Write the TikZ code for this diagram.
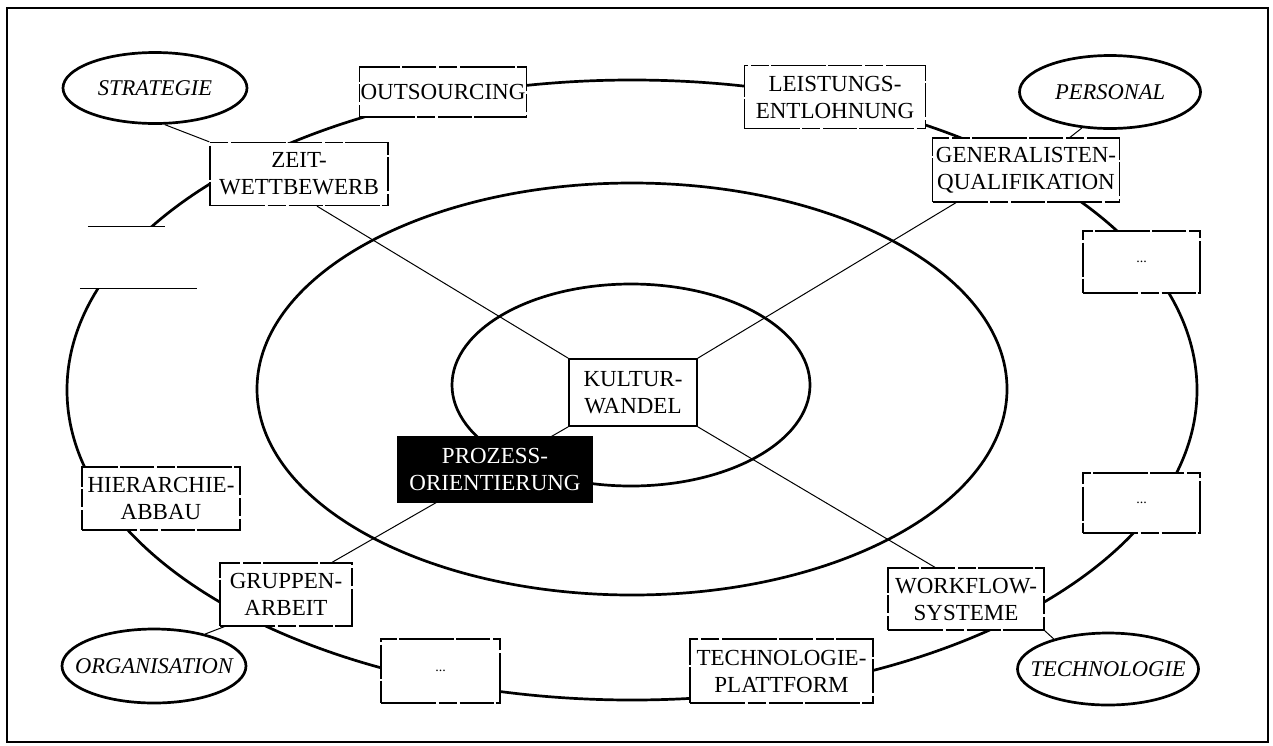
\documentclass[tikz,border=0pt]{standalone}
\usepackage{fontspec}
\setmainfont{Liberation Serif}
\usetikzlibrary{shapes.geometric,calc}
\pgfdeclarelayer{bg}
\pgfsetlayers{bg,main}
% keeps a label from widening the ellipse around it
\newcommand{\narrowtext}[1]{\makebox[0pt]{#1}}
\tikzset{
  ring/.style={line width=2.7pt},
  link/.style={line width=1pt},
  boxbase/.style={rectangle, inner sep=0pt, align=center, fill=white,
    font=\fontsize{23}{27}\selectfont},
  tbox/.style={boxbase, draw, line width=1.3pt,
    dash pattern=on 55pt off 2.5pt on 18pt off 3pt on 34pt off 2pt},
  sbox/.style={boxbase, draw, line width=1.7pt},
  dotbox/.style={tbox, font=\fontsize{14}{16}\selectfont},
  area/.style={ellipse, draw, line width=2.7pt, fill=white, inner sep=0pt,
    font=\fontsize{22.5}{26}\selectfont\itshape}
}
\begin{document}
\begin{tikzpicture}[x=1pt,y=-1pt]
\useasboundingbox (0,0) rectangle (1273,745);

% the four fields
\node[area, minimum width=184pt, minimum height=71pt] (strat) at (155,88) {\narrowtext{STRATEGIE}};
\node[area, minimum width=181pt, minimum height=73pt] (pers) at (1110,92) {\narrowtext{PERSONAL}};
\node[area, minimum width=184pt, minimum height=74pt] (org) at (154,666) {\narrowtext{ORGANISATION}};
\node[area, minimum width=181pt, minimum height=72pt] (tech) at (1108,669) {\narrowtext{TECHNOLOGIE}};

% measures on the outer ring
\node[tbox, minimum width=167pt, minimum height=50pt] (outs) at (443,92) {OUTSOURCING};
\node[tbox, minimum width=181pt, minimum height=63pt] (leist) at (835,97) {LEISTUNGS-\\ENTLOHNUNG};
\node[tbox, minimum width=178pt, minimum height=63pt] (zeit) at (299,174) {ZEIT-\\WETTBEWERB};
\node[tbox, minimum width=187pt, minimum height=64pt] (gen) at (1026,170) {GENERALISTEN-\\QUALIFIKATION};
\node[boxbase, minimum width=117pt, minimum height=61pt] (e1) at (138.5,257.5) {};
\node[dotbox, minimum width=117pt, minimum height=62pt] (d1) at (1141.5,262) {...};
\node[dotbox, minimum width=117pt, minimum height=60pt] (d2) at (1141.5,503) {...};
\node[tbox, minimum width=158pt, minimum height=63pt] (hier) at (161,498.5) {HIERARCHIE-\\ABBAU};
\node[tbox, minimum width=132pt, minimum height=63pt] (grp) at (286,594.5) {GRUPPEN-\\ARBEIT};
\node[dotbox, minimum width=119pt, minimum height=64pt] (d3) at (440.5,671) {...};
\node[tbox, minimum width=183pt, minimum height=64pt] (plat) at (781.5,671) {TECHNOLOGIE-\\PLATTFORM};
\node[tbox, minimum width=156pt, minimum height=62pt] (wf) at (966,599) {WORKFLOW-\\SYSTEME};

% core
\node[sbox, minimum width=128pt, minimum height=67pt] (kult) at (633,392.5) {KULTUR-\\WANDEL};
\node[boxbase, fill=black, text=white, minimum width=196pt, minimum height=67pt] (proz) at (495,469.5) {PROZESS-\\ORIENTIERUNG};

% remaining edges of the blank box
\draw[line width=1.3pt] ($(e1.north west)+(8,0)$) -- ($(e1.north west)+(85,0)$);
\draw[line width=1.3pt] (e1.south west) -- (e1.south east);

\begin{pgfonlayer}{bg}
  \draw[line width=1.5pt] (7,8) rectangle (1268,742);
  \draw[ring] (632,390) ellipse [x radius=565pt, y radius=310pt];
  \draw[ring] (632,389) ellipse [x radius=375pt, y radius=206pt];
  \draw[ring] (631,385) ellipse [x radius=179pt, y radius=101pt];
  % spokes from the core
  \draw[link] ($(zeit.south)+(18,0)$) -- (kult.north west);
  \draw[link] ($(gen.south)+(-70,0)$) -- (kult.north east);
  \draw[link] (kult.south east) -- ($(wf.north)+(-31,0)$);
  \draw[link] (kult.south west) -- ($(grp.north)+(46,0)$);
  % fields to their measures
  \draw[link] (strat.-75) -- (zeit.north west);
  \draw[link] (pers.-128) -- ($(gen.north)+(44,0)$);
  \draw[link] (org.32) -- ($(grp.south west)+(5,0)$);
  \draw[link] (tech.151) -- (wf.south east);
\end{pgfonlayer}
\end{tikzpicture}
\end{document}
